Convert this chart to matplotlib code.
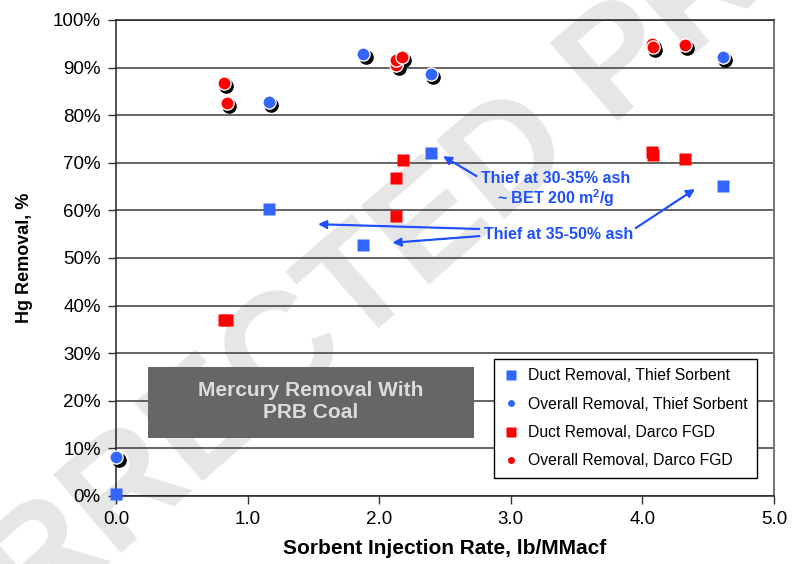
import matplotlib
matplotlib.use('Agg')
import matplotlib.pyplot as plt
import matplotlib.transforms as mtransforms
from matplotlib.lines import Line2D
from matplotlib.patches import Rectangle
from matplotlib.ticker import FuncFormatter

plt.rcParams['font.family'] = ['Liberation Sans', 'DejaVu Sans']
plt.rcParams['mathtext.fontset'] = 'custom'
plt.rcParams['mathtext.rm'] = 'Liberation Sans'
plt.rcParams['mathtext.bf'] = 'Liberation Sans:bold'

# data (sorbent rate lb/MMacf, Hg removal %)
thief_duct_x = [0.0, 1.16, 1.88, 2.39, 4.61]
thief_duct_y = [0.5, 60.3, 52.7, 72.1, 65.1]
thief_overall_x = [0.0, 1.16, 1.88, 2.39, 4.61]
thief_overall_y = [8.1, 82.8, 92.8, 88.7, 92.2]
darco_duct_x = [0.82, 0.84, 2.13, 2.13, 2.18, 4.07, 4.08, 4.32]
darco_duct_y = [36.9, 37.0, 58.9, 66.9, 70.6, 72.3, 71.7, 70.9]
darco_overall_x = [0.82, 0.84, 2.13, 2.13, 2.17, 4.07, 4.08, 4.32]
darco_overall_y = [86.7, 82.5, 90.5, 91.6, 92.2, 95.0, 94.3, 94.7]

labels = ['Duct Removal, Thief Sorbent', 'Overall Removal, Thief Sorbent',
          'Duct Removal, Darco FGD', 'Overall Removal, Darco FGD']
x_ticks = [0, 1, 2, 3, 4, 5]
y_ticks = [0, 10, 20, 30, 40, 50, 60, 70, 80, 90, 100]

blue = '#3366ff'
red = '#ff0000'
txt_blue = '#1f4fff'

fig = plt.figure(figsize=(7.92, 5.64), dpi=100)
ax = fig.add_axes([116 / 792, 68 / 564, 658 / 792, 476 / 564])
ax.set_facecolor('none')

# watermark
fig.text(412 / 792, 1 - 248 / 564, 'CORRECTED PROOF', rotation=41, fontsize=108,
         weight='bold', color='#e6e6e6', ha='center', va='center',
         rotation_mode='anchor', zorder=-1)

ax.set_xlim(0, 5)
ax.set_ylim(0, 100)
ax.set_xticks(x_ticks)
ax.set_yticks(y_ticks)
ax.xaxis.set_major_formatter(FuncFormatter(lambda v, p: '%.1f' % v))
ax.yaxis.set_major_formatter(FuncFormatter(lambda v, p: '%d%%' % v))
ax.tick_params(labelsize=13.5, length=6, width=1, color='#333333', pad=5)
ax.yaxis.grid(True, color='#3a3a3a', lw=1.1)
ax.set_axisbelow(True)
for s in ['left', 'bottom', 'top']:
    ax.spines[s].set_color('#222222')
    ax.spines[s].set_linewidth(1.1)
ax.spines['right'].set_color('#777777')
ax.spines['right'].set_linewidth(1.5)

ax.set_xlabel('Sorbent Injection Rate, lb/MMacf', fontsize=15, weight='bold', labelpad=8)
ax.set_ylabel('Hg Removal, %', fontsize=13, weight='bold', labelpad=14)

# grey title box
ax.add_patch(Rectangle((0.243, 12.2), 2.477, 14.9, fc='#666666', ec='none', zorder=3))
ax.text(1.48, 19.9, 'Mercury Removal With\nPRB Coal', ha='center', va='center',
        fontsize=15, weight='bold', color='#dcdcdc', linespacing=1.2, zorder=4)

# markers
shadow = mtransforms.offset_copy(ax.transData, fig=fig, x=2.5, y=-3, units='dots')
ax.plot(thief_duct_x, thief_duct_y, 's', color=blue, ms=9, mec='none', zorder=5, clip_on=False)
ax.plot(darco_duct_x, darco_duct_y, 's', color=red, ms=9, mec='none', zorder=5, clip_on=False)
for xs, ys, c in [(thief_overall_x, thief_overall_y, blue),
                  (darco_overall_x, darco_overall_y, red)]:
    ax.plot(xs, ys, 'o', color='black', ms=9.5, mec='black', transform=shadow,
            zorder=5, clip_on=False)
    ax.plot(xs, ys, 'o', color=c, ms=9.5, mec='white', mew=1, zorder=6, clip_on=False)

# annotations
arrow_kw = dict(arrowstyle='-|>', color=txt_blue, lw=1.6, linestyle=(0, (1, 0.6)),
                mutation_scale=12, shrinkA=0, shrinkB=0)
ax.text(3.34, 64.3, 'Thief at 30-35% ash\n~ BET 200 m$^{\\mathbf{2}}$/g', ha='center',
        va='center', fontsize=11.5, weight='bold', color=txt_blue, linespacing=1.1, zorder=7)
ax.text(3.36, 55.0, 'Thief at 35-50% ash', ha='center', va='center',
        fontsize=11.5, weight='bold', color=txt_blue, zorder=7)
ax.annotate('', xy=(2.485, 71.4), xytext=(2.74, 67.2), arrowprops=arrow_kw, zorder=7)
ax.annotate('', xy=(1.535, 57.1), xytext=(2.76, 56.1), arrowprops=arrow_kw, zorder=7)
ax.annotate('', xy=(2.10, 53.2), xytext=(2.76, 54.6), arrowprops=arrow_kw, zorder=7)
ax.annotate('', xy=(4.40, 64.5), xytext=(3.95, 56.3), arrowprops=arrow_kw, zorder=7)

# legend
handles = [Line2D([], [], ls='', marker='s', color=blue, ms=7, mec='none'),
           Line2D([], [], ls='', marker='o', color=blue, ms=5, mec='none'),
           Line2D([], [], ls='', marker='s', color=red, ms=7, mec='none'),
           Line2D([], [], ls='', marker='o', color=red, ms=5, mec='none')]
leg = ax.legend(handles, labels, loc='lower left', bbox_to_anchor=(0.574, 0.038),
                fontsize=11.3, frameon=True, fancybox=False, framealpha=1,
                edgecolor='black', labelspacing=0.85, handlelength=1.0,
                handletextpad=0.6, borderpad=0.6, borderaxespad=0)
leg.get_frame().set_linewidth(1.0)
leg.set_zorder(8)

plt.savefig('out.png', dpi=100)
